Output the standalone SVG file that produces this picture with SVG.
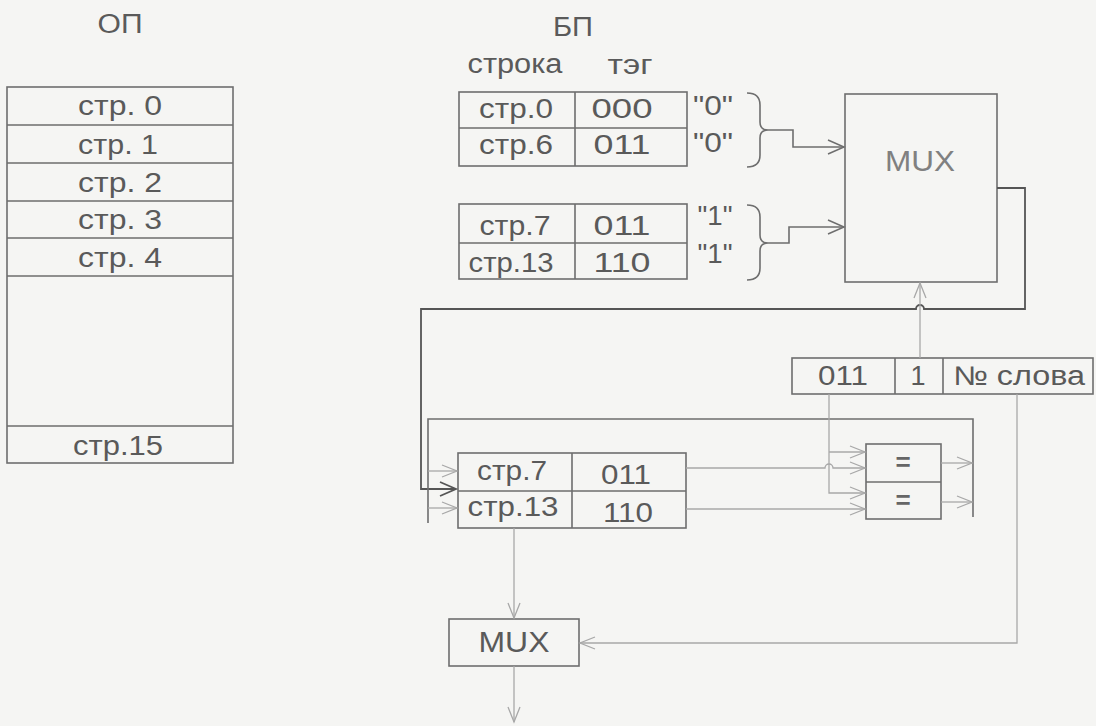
<svg xmlns="http://www.w3.org/2000/svg" width="1096" height="726" viewBox="0 0 1096 726">
<style>
.bx{fill:none;stroke:#6e6e6e;stroke-width:1.6}
.ln{fill:none;stroke:#6e6e6e;stroke-width:1.6}
.lt{fill:none;stroke:#a8a8a8;stroke-width:1.3}
.dk{fill:none;stroke:#555;stroke-width:1.8}
text{font-family:"Liberation Sans",Arial,sans-serif;fill:#5a5a5a;text-anchor:middle;font-size:27px}
.big{font-size:30px}
.mux{fill:#808080}
.eq{font-size:26px;fill:#666;font-weight:bold}
</style>
<defs>
<marker id="ad" markerUnits="userSpaceOnUse" markerWidth="20" markerHeight="18" refX="17" refY="8" orient="auto"><path d="M1,1 L17,8 L1,15" fill="none" stroke="#555" stroke-width="1.8"/></marker>
<marker id="am" markerUnits="userSpaceOnUse" markerWidth="20" markerHeight="18" refX="17" refY="8" orient="auto"><path d="M1,1 L17,8 L1,15" fill="none" stroke="#6e6e6e" stroke-width="1.5"/></marker>
<marker id="al" markerUnits="userSpaceOnUse" markerWidth="20" markerHeight="18" refX="17" refY="8" orient="auto"><path d="M2,2 L17,8 L2,14" fill="none" stroke="#a8a8a8" stroke-width="1.3"/></marker>
</defs>
<rect width="1096" height="726" fill="#f5f5f3"/>

<g id="op">
<text x="120" y="33" textLength="45" lengthAdjust="spacingAndGlyphs">ОП</text>
<rect class="bx" x="7" y="87" width="226" height="376"/>
<path class="ln" d="M7,125H233M7,163H233M7,201H233M7,238H233M7,276H233M7,426H233"/>
<text x="120" y="115" textLength="84" lengthAdjust="spacingAndGlyphs">стр. 0</text>
<text x="118" y="154" textLength="80" lengthAdjust="spacingAndGlyphs">стр. 1</text>
<text x="120" y="192" textLength="84" lengthAdjust="spacingAndGlyphs">стр. 2</text>
<text x="120" y="229" textLength="84" lengthAdjust="spacingAndGlyphs">стр. 3</text>
<text x="120" y="267" textLength="84" lengthAdjust="spacingAndGlyphs">стр. 4</text>
<text x="118" y="455" textLength="90" lengthAdjust="spacingAndGlyphs">стр.15</text>
</g>

<g id="bp-header">
<text x="573" y="36" textLength="40" lengthAdjust="spacingAndGlyphs">БП</text>
<text x="515" y="73" textLength="95" lengthAdjust="spacingAndGlyphs">строка</text>
<text x="630" y="74" textLength="45" lengthAdjust="spacingAndGlyphs">тэг</text>
</g>

<g id="bp-set0">
<rect class="bx" x="459" y="92" width="228" height="74"/>
<path class="ln" d="M459,128H687M575,92V166"/>
<text x="516" y="118" textLength="74" lengthAdjust="spacingAndGlyphs">стр.0</text>
<text x="622" y="118" textLength="61" lengthAdjust="spacingAndGlyphs">000</text>
<text x="516" y="154" textLength="74" lengthAdjust="spacingAndGlyphs">стр.6</text>
<text x="622" y="154" textLength="57" lengthAdjust="spacingAndGlyphs">011</text>
<text x="713" y="115" textLength="40" lengthAdjust="spacingAndGlyphs">"0"</text>
<text x="713" y="152" textLength="40" lengthAdjust="spacingAndGlyphs">"0"</text>
<path class="ln" d="M747,93Q760,93 760,105V122Q760,130 768,130Q760,130 760,138V155Q760,167 747,167"/>
</g>

<g id="bp-set1">
<rect class="bx" x="459" y="204" width="228" height="75"/>
<path class="ln" d="M459,243H687M575,204V279"/>
<text x="515" y="235" textLength="71" lengthAdjust="spacingAndGlyphs">стр.7</text>
<text x="622" y="235" textLength="57" lengthAdjust="spacingAndGlyphs">011</text>
<text x="511" y="272" textLength="85" lengthAdjust="spacingAndGlyphs">стр.13</text>
<text x="622" y="272" textLength="57" lengthAdjust="spacingAndGlyphs">110</text>
<text x="715" y="225" textLength="35" lengthAdjust="spacingAndGlyphs">"1"</text>
<text x="715" y="263" textLength="35" lengthAdjust="spacingAndGlyphs">"1"</text>
<path class="ln" d="M747,205Q760,205 760,217V235Q760,243 768,243Q760,243 760,251V268Q760,280 747,280"/>
</g>

<g id="mux-top">
<rect class="bx" x="845" y="94" width="152" height="188"/>
<text class="big mux" x="920" y="171" textLength="70" lengthAdjust="spacingAndGlyphs">MUX</text>
</g>

<g id="register">
<rect class="bx" x="792" y="358" width="301" height="36"/>
<path class="ln" d="M895,358V394M943,358V394"/>
<text x="843" y="385" textLength="50" lengthAdjust="spacingAndGlyphs">011</text>
<text x="918" y="385">1</text>
<text x="1019" y="385" textLength="132" lengthAdjust="spacingAndGlyphs">№ слова</text>
</g>

<g id="cmp">
<rect class="bx" x="866" y="444" width="75" height="75"/>
<path class="ln" d="M866,482H941"/>
<text class="eq" x="903" y="471">=</text>
<text class="eq" x="903" y="509">=</text>
</g>

<g id="bp-selected">
<rect class="bx" x="458" y="453" width="228" height="75"/>
<path class="ln" d="M458,491H686M572,453V528"/>
<text x="512" y="480" textLength="70" lengthAdjust="spacingAndGlyphs">стр.7</text>
<text x="626" y="484" textLength="50" lengthAdjust="spacingAndGlyphs">011</text>
<text x="513" y="516" textLength="91" lengthAdjust="spacingAndGlyphs">стр.13</text>
<text x="628" y="522" textLength="50" lengthAdjust="spacingAndGlyphs">110</text>
</g>

<g id="mux-bottom">
<rect class="bx" x="449" y="619" width="130" height="47"/>
<text class="big" x="514" y="652" textLength="71" lengthAdjust="spacingAndGlyphs">MUX</text>
</g>

<g id="connectors">
<path class="ln" d="M768,130H793V147H844" marker-end="url(#am)"/>
<path class="ln" d="M768,243H789V227H844" marker-end="url(#am)"/>
<path class="dk" d="M997,188H1025V309H924A4,4 0 0 0 916,309H421V489H456" marker-end="url(#ad)"/>
<path class="lt" d="M920,358V283" marker-end="url(#al)"/>
<path class="ln" d="M428,523V419H973V517"/>
<path class="lt" d="M428,471H457" marker-end="url(#al)"/>
<path class="lt" d="M428,508H457" marker-end="url(#al)"/>
<path class="lt" d="M829,394V493H865" marker-end="url(#al)"/>
<path class="lt" d="M829,452H865" marker-end="url(#al)"/>
<path class="lt" d="M686,468H825A4,4 0 0 1 833,468H865" marker-end="url(#al)"/>
<path class="lt" d="M686,509H865" marker-end="url(#al)"/>
<path class="lt" d="M941,463H972" marker-end="url(#al)"/>
<path class="lt" d="M941,502H972" marker-end="url(#al)"/>
<path class="lt" d="M514,528V618" marker-end="url(#al)"/>
<path class="lt" d="M1017,394V643H580" marker-end="url(#al)"/>
<path class="lt" d="M514,666V722" marker-end="url(#al)"/>
</g>
</svg>
